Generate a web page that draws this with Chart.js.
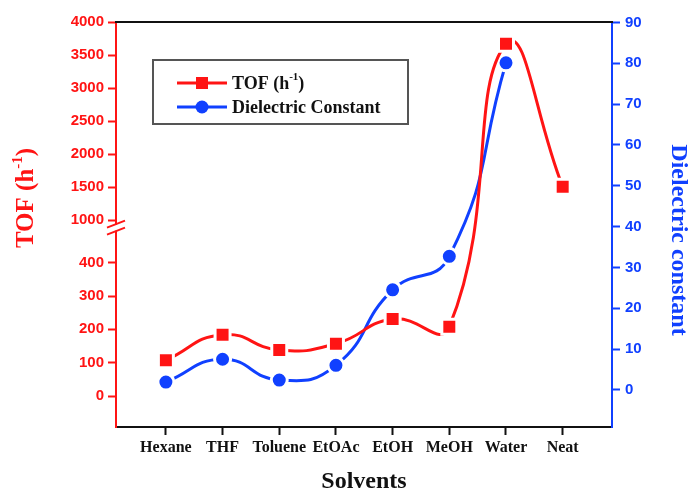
<!DOCTYPE html>
<html>
<head>
<meta charset="utf-8">
<script src="https://cdn.jsdelivr.net/npm/chart.js@4/dist/chart.umd.min.js"></script>
<style>
  body { margin: 0; background: #fff; }
  #wrap { width: 689px; height: 492px; position: relative; }
</style>
</head>
<body>
<div id="wrap"><canvas id="chart"></canvas></div>
<script>
// Data
const solvents = ["Hexane", "THF", "Toluene", "EtOAc", "EtOH", "MeOH", "Water", "Neat"];
const tof = [107, 184, 138, 157, 231, 208, 3670, 1505];
const dielectric = [1.9, 7.5, 2.4, 6.0, 24.5, 32.7, 80.1, null];
const tofTicks = [0, 100, 200, 300, 400, 1000, 1500, 2000, 2500, 3000, 3500, 4000];
const dielTicks = [0, 10, 20, 30, 40, 50, 60, 70, 80, 90];

const RED = "#ff1414";
const BLUE = "#1040ff";
const SERIF = "'Liberation Serif', 'Times New Roman', serif";
const SANS = "'Liberation Sans', Arial, sans-serif";

// broken TOF axis: 0-500 keeps its scale, above 1000 compressed
function toAxis(v) {
    return v <= 500 ? v : 528 + (v - 1000) * 0.198;
}

const decor = {
    id: "decor",
    afterDraw(chart) {
        const ctx = chart.ctx;
        const a = chart.chartArea;
        ctx.save();

        // top frame line
        ctx.strokeStyle = "#111";
        ctx.lineWidth = 2;
        ctx.beginPath();
        ctx.moveTo(a.left - 1, a.top);
        ctx.lineTo(a.right + 1, a.top);
        ctx.stroke();

        // axis break marks
        const yb = chart.scales.y.getPixelForValue(505);
        ctx.fillStyle = "#fff";
        ctx.fillRect(a.left - 3, yb - 3, 6, 6);
        ctx.strokeStyle = RED;
        ctx.lineWidth = 2;
        [-3.5, 3.5].forEach(d => {
            ctx.beginPath();
            ctx.moveTo(a.left - 9, yb + d + 3.5);
            ctx.lineTo(a.left + 9, yb + d - 3.5);
            ctx.stroke();
        });

        // left title with superscript
        ctx.fillStyle = RED;
        ctx.textBaseline = "middle";
        ctx.translate(27, 198);
        ctx.rotate(-Math.PI / 2);
        const big = "bold 25px " + SERIF, small = "bold 15px " + SERIF;
        ctx.font = big; const w1 = ctx.measureText("TOF (h").width; const w3 = ctx.measureText(")").width;
        ctx.font = small; const w2 = ctx.measureText("-1").width;
        let x = -(w1 + w2 + w3) / 2;
        ctx.textAlign = "left";
        ctx.font = big; ctx.fillText("TOF (h", x, 0); x += w1;
        ctx.font = small; ctx.fillText("-1", x, -9); x += w2;
        ctx.font = big; ctx.fillText(")", x, 0);
        ctx.restore();

        // right title
        ctx.save();
        ctx.fillStyle = BLUE;
        ctx.font = "bold 24px " + SERIF;
        ctx.textAlign = "center";
        ctx.textBaseline = "middle";
        ctx.translate(678, 240);
        ctx.rotate(Math.PI / 2);
        ctx.fillText("Dielectric constant", 0, 0);
        ctx.restore();

        // bottom title
        ctx.save();
        ctx.fillStyle = "#111";
        ctx.font = "bold 24px " + SERIF;
        ctx.textAlign = "center";
        ctx.textBaseline = "middle";
        ctx.fillText("Solvents", 364, 482);

        // legend
        ctx.strokeStyle = "#555";
        ctx.lineWidth = 2;
        ctx.strokeRect(153, 60, 255, 64);
        const rows = [
            { color: RED, y: 83, shape: "sq" },
            { color: BLUE, y: 107, shape: "ci" }
        ];
        rows.forEach(r => {
            ctx.strokeStyle = r.color;
            ctx.lineWidth = 3;
            ctx.beginPath(); ctx.moveTo(177, r.y); ctx.lineTo(227, r.y); ctx.stroke();
            ctx.fillStyle = r.color;
            if (r.shape === "sq") ctx.fillRect(196, r.y - 6, 12, 12);
            else { ctx.beginPath(); ctx.arc(202, r.y, 6.5, 0, Math.PI * 2); ctx.fill(); }
        });
        ctx.fillStyle = "#111";
        ctx.textAlign = "left";
        ctx.font = "bold 18px " + SERIF;
        ctx.fillText("TOF (h", 232, 84);
        const tw = ctx.measureText("TOF (h").width;
        ctx.font = "bold 11px " + SERIF;
        ctx.fillText("-1", 232 + tw, 77);
        const sw = ctx.measureText("-1").width;
        ctx.font = "bold 18px " + SERIF;
        ctx.fillText(")", 232 + tw + sw, 84);
        ctx.fillText("Dielectric Constant", 232, 108);
        ctx.restore();
    }
};

new Chart(document.getElementById("chart"), {
    type: "line",
    data: {
        datasets: [
            {
                label: "TOF",
                data: tof.map((v, i) => ({ x: i, y: toAxis(v) })),
                yAxisID: "y",
                borderColor: RED,
                backgroundColor: RED,
                borderWidth: 3,
                tension: 0.5,
                pointStyle: "rect",
                pointRadius: 10.6,
                pointBorderWidth: 3,
                pointBorderColor: "#fff",
                pointBackgroundColor: RED
            },
            {
                label: "Dielectric Constant",
                data: dielectric.map((v, i) => ({ x: i, y: v })),
                yAxisID: "y1",
                borderColor: BLUE,
                backgroundColor: BLUE,
                borderWidth: 3,
                tension: 0.5,
                pointStyle: "circle",
                pointRadius: 8,
                pointBorderWidth: 3,
                pointBorderColor: "#fff",
                pointBackgroundColor: BLUE
            }
        ]
    },
    options: {
        responsive: true,
        maintainAspectRatio: false,
        animation: false,
        layout: { padding: { top: 22, left: 0, right: 0, bottom: 0 } },
        plugins: { legend: { display: false }, tooltip: { enabled: false } },
        scales: {
            x: {
                type: "linear",
                min: -0.88,
                max: 7.87,
                afterBuildTicks: s => { s.ticks = solvents.map((_, i) => ({ value: i })); },
                afterFit: s => { s.height = 65; },
                ticks: {
                    callback: v => solvents[v] ?? "",
                    color: "#111",
                    font: { family: SERIF, weight: "bold", size: 16 },
                    padding: 3,
                    maxRotation: 0,
                    autoSkip: false
                },
                grid: { drawOnChartArea: false, tickLength: 8, tickWidth: 2, tickColor: "#111" },
                border: { color: "#111", width: 2 }
            },
            y: {
                position: "left",
                min: -93,
                max: toAxis(4000),
                afterBuildTicks: s => { s.ticks = tofTicks.map(v => ({ value: toAxis(v) })); },
                afterFit: s => { s.width = 116; },
                ticks: {
                    callback: (v, i) => tofTicks[i],
                    color: RED,
                    font: { family: SANS, weight: "bold", size: 15 },
                    padding: 4
                },
                grid: { drawOnChartArea: false, tickLength: 8, tickWidth: 2, tickColor: RED },
                border: { color: RED, width: 2 }
            },
            y1: {
                position: "right",
                min: -9.1,
                max: 90.1,
                afterBuildTicks: s => { s.ticks = dielTicks.map(v => ({ value: v })); },
                afterFit: s => { s.width = 77; },
                ticks: {
                    color: BLUE,
                    font: { family: SANS, weight: "bold", size: 15 },
                    padding: 5
                },
                grid: { drawOnChartArea: false, tickLength: 8, tickWidth: 2, tickColor: BLUE },
                border: { color: BLUE, width: 2 }
            }
        }
    },
    plugins: [decor]
});
</script>
</body>
</html>
